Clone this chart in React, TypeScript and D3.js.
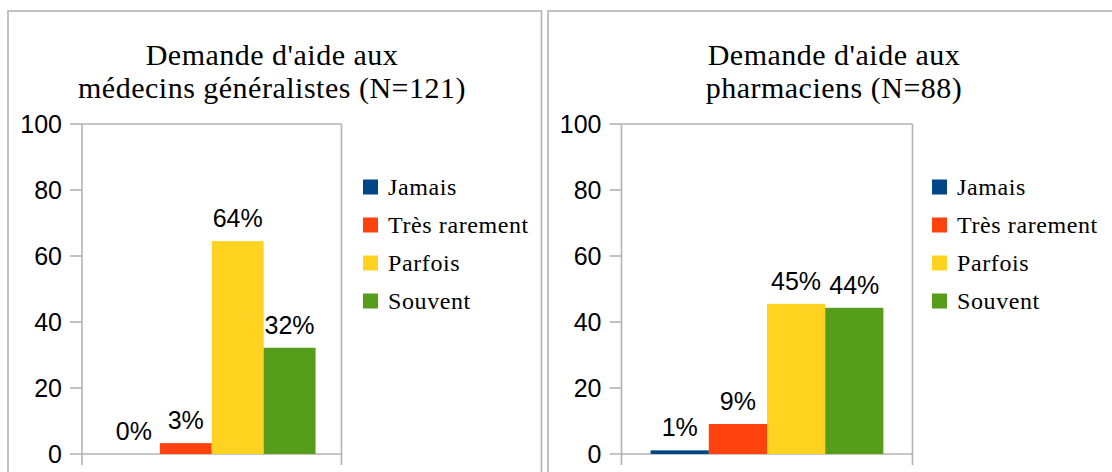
import React from "react";
import * as d3 from "d3";

const categories = ["Jamais", "Très rarement", "Parfois", "Souvent"];
const colors = ["#004586", "#ff420e", "#ffd320", "#579d1c"];
const valuesMedecins = [0, 3.3, 64.5, 32.2];
const valuesPharmaciens = [1.1, 9.1, 45.5, 44.3];
const labelsMedecins = ["0%", "3%", "64%", "32%"];
const labelsPharmaciens = ["1%", "9%", "45%", "44%"];
const yTicks = [0, 20, 40, 60, 80, 100];
const titleMedecins = ["Demande d'aide aux", "médecins généralistes (N=121)"];
const titlePharmaciens = ["Demande d'aide aux", "pharmaciens (N=88)"];

const SERIF = "'Liberation Serif', 'Times New Roman', serif";
const SANS = "'Liberation Sans', Arial, sans-serif";
const GRID = "#b3b3b3";

type PanelProps = {
  x0: number;
  x1: number;
  plotLeft: number;
  plotRight: number;
  titleCenter: number;
  legendX: number;
  title: string[];
  values: number[];
  labels: string[];
};

function Panel(p: PanelProps) {
  const plotTop = 124;
  const plotBottom = 454;
  const y = d3.scaleLinear().domain([0, 100]).range([plotBottom, plotTop]);
  const w = p.plotRight - p.plotLeft;
  const x = d3
    .scaleBand<string>()
    .domain(categories)
    .range([p.plotLeft + w * 0.1, p.plotRight - w * 0.1])
    .paddingInner(0)
    .paddingOuter(0);
  const legendY = d3.scalePoint<string>().domain(categories).range([187, 301]);

  return (
    <g>
      <rect
        x={p.x0}
        y={11}
        width={p.x1 - p.x0}
        height={500}
        fill="#fff"
        stroke={GRID}
        strokeWidth={1.6}
      />
      {p.title.map((t, i) => (
        <text
          key={i}
          x={p.titleCenter}
          y={65 + i * 33}
          textAnchor="middle"
          fontFamily={SERIF}
          fontSize={30}
          letterSpacing={0.5}
          fill="#000"
        >
          {t}
        </text>
      ))}
      {/* plot frame */}
      <line x1={p.plotLeft} x2={p.plotRight} y1={plotTop} y2={plotTop} stroke={GRID} strokeWidth={1.6} />
      <line x1={p.plotRight} x2={p.plotRight} y1={plotTop} y2={plotBottom + 11} stroke={GRID} strokeWidth={1.6} />
      <line x1={p.plotLeft} x2={p.plotLeft} y1={plotTop} y2={plotBottom + 11} stroke={GRID} strokeWidth={1.6} />
      {/* y ticks */}
      {yTicks.map((t) => (
        <g key={t}>
          <line
            x1={p.plotLeft - 12}
            x2={t === 0 ? p.plotRight : p.plotLeft}
            y1={y(t)}
            y2={y(t)}
            stroke={GRID}
            strokeWidth={1.6}
          />
          <text
            x={p.plotLeft - 20}
            y={y(t) + 9}
            textAnchor="end"
            fontFamily={SANS}
            fontSize={25}
            fill="#000"
          >
            {t}
          </text>
        </g>
      ))}
      {/* bars */}
      {categories.map((c, i) => (
        <rect
          key={c}
          x={x(c)}
          y={y(p.values[i])}
          width={x.bandwidth()}
          height={plotBottom - y(p.values[i])}
          fill={colors[i]}
        />
      ))}
      {categories.map((c, i) => (
        <text
          key={c}
          x={(x(c) as number) + x.bandwidth() / 2}
          y={y(p.values[i]) - 14}
          textAnchor="middle"
          fontFamily={SANS}
          fontSize={25}
          fill="#000"
        >
          {p.labels[i]}
        </text>
      ))}
      {/* legend */}
      {categories.map((c, i) => (
        <g key={c}>
          <rect x={p.legendX} y={(legendY(c) as number) - 7.5} width={15} height={15} fill={colors[i]} />
          <text
            x={p.legendX + 25}
            y={(legendY(c) as number) + 8}
            fontFamily={SERIF}
            fontSize={24}
            letterSpacing={0.6}
            fill="#000"
          >
            {c}
          </text>
        </g>
      ))}
    </g>
  );
}

export default function App() {
  return (
    <svg
      width={1112}
      height={472}
      style={{ position: "absolute", left: 0, top: 0, background: "#fff" }}
    >
      <rect x={0} y={0} width={1112} height={472} fill="#fff" />
      <Panel
        x0={8}
        x1={541.5}
        plotLeft={82}
        plotRight={341.5}
        titleCenter={272}
        legendX={363}
        title={titleMedecins}
        values={valuesMedecins}
        labels={labelsMedecins}
      />
      <Panel
        x0={548}
        x1={1130}
        plotLeft={621.5}
        plotRight={912.5}
        titleCenter={834}
        legendX={932}
        title={titlePharmaciens}
        values={valuesPharmaciens}
        labels={labelsPharmaciens}
      />
    </svg>
  );
}
